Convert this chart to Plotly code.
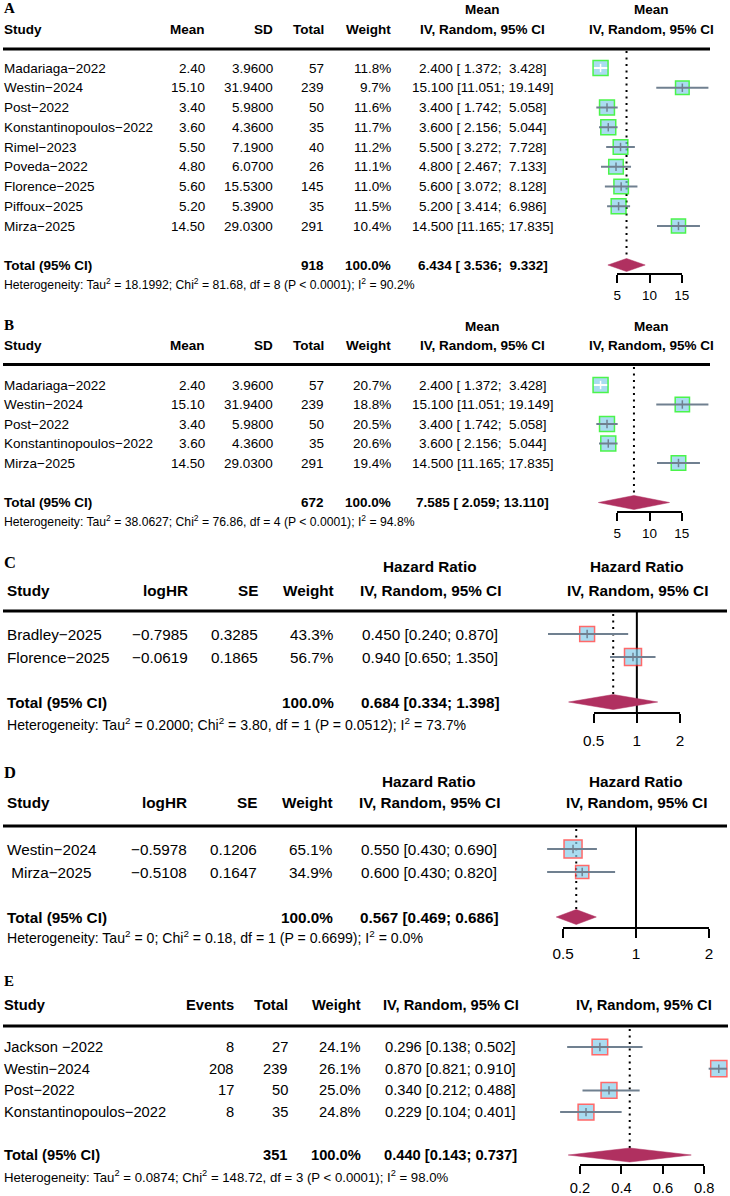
import math
import plotly.graph_objects as go

W, H = 730, 1196
SANS = "Liberation Sans, Arial, sans-serif"
SERIF = "Liberation Serif, Times New Roman, serif"
FILL = "#87CEEB"
CI_COL = "#708090"
DIAMOND = "#B03060"
GREEN = "#00F000"
RED = "#FF2A2A"

# ---------------- DATA ----------------
A_study = ["Madariaga−2022", "Westin−2024", "Post−2022", "Konstantinopoulos−2022", "Rimel−2023",
           "Poveda−2022", "Florence−2025", "Piffoux−2025", "Mirza−2025"]
A_mean = [2.40, 15.10, 3.40, 3.60, 5.50, 4.80, 5.60, 5.20, 14.50]
A_sd = [3.96, 31.94, 5.98, 4.36, 7.19, 6.07, 15.53, 5.39, 29.03]
A_total = [57, 239, 50, 35, 40, 26, 145, 35, 291]
A_weight = [11.8, 9.7, 11.6, 11.7, 11.2, 11.1, 11.0, 11.5, 10.4]
A_est = [2.400, 15.100, 3.400, 3.600, 5.500, 4.800, 5.600, 5.200, 14.500]
A_lo = [1.372, 11.051, 1.742, 2.156, 3.272, 2.467, 3.072, 3.414, 11.165]
A_hi = [3.428, 19.149, 5.058, 5.044, 7.728, 7.133, 8.128, 6.986, 17.835]
A_pooled = [6.434, 3.536, 9.332]
A_sum_total = 918
A_het = ["18.1992", "81.68", "8", "< 0.0001", "90.2"]
A_ticks = [5, 10, 15]

B_study = ["Madariaga−2022", "Westin−2024", "Post−2022", "Konstantinopoulos−2022", "Mirza−2025"]
B_mean = [2.40, 15.10, 3.40, 3.60, 14.50]
B_sd = [3.96, 31.94, 5.98, 4.36, 29.03]
B_total = [57, 239, 50, 35, 291]
B_weight = [20.7, 18.8, 20.5, 20.6, 19.4]
B_est = [2.400, 15.100, 3.400, 3.600, 14.500]
B_lo = [1.372, 11.051, 1.742, 2.156, 11.165]
B_hi = [3.428, 19.149, 5.058, 5.044, 17.835]
B_pooled = [7.585, 2.059, 13.110]
B_sum_total = 672
B_het = ["38.0627", "76.86", "4", "< 0.0001", "94.8"]
B_ticks = [5, 10, 15]

C_study = ["Bradley−2025", "Florence−2025"]
C_loghr = [-0.7985, -0.0619]
C_se = [0.3285, 0.1865]
C_weight = [43.3, 56.7]
C_hr = [0.450, 0.940]
C_lo = [0.240, 0.650]
C_hi = [0.870, 1.350]
C_pooled = [0.684, 0.334, 1.398]
C_het = ["0.2000", "3.80", "1", "= 0.0512", "73.7"]
C_ticks = [0.5, 1, 2]

D_study = ["Westin−2024", " Mirza−2025"]
D_loghr = [-0.5978, -0.5108]
D_se = [0.1206, 0.1647]
D_weight = [65.1, 34.9]
D_hr = [0.550, 0.600]
D_lo = [0.430, 0.430]
D_hi = [0.690, 0.820]
D_pooled = [0.567, 0.469, 0.686]
D_het = ["0", "0.18", "1", "= 0.6699", "0.0"]
D_ticks = [0.5, 1, 2]

E_study = ["Jackson −2022", "Westin−2024", "Post−2022", "Konstantinopoulos−2022"]
E_events = [8, 208, 17, 8]
E_total = [27, 239, 50, 35]
E_weight = [24.1, 26.1, 25.0, 24.8]
E_est = [0.296, 0.870, 0.340, 0.229]
E_lo = [0.138, 0.821, 0.212, 0.104]
E_hi = [0.502, 0.910, 0.488, 0.401]
E_pooled = [0.440, 0.143, 0.737]
E_sum_total = 351
E_het = ["0.0874", "148.72", "3", "< 0.0001", "98.0"]
E_ticks = [0.2, 0.4, 0.6, 0.8]

# ---------------- HELPERS ----------------
fig = go.Figure()
ann, shp, lay = [], [], {}
NB = "\u00a0"


def X(px):
    return px / W


def txt(x, y, s, size, anchor="left", bold=False, family=SANS):
    if bold:
        s = "<b>" + s + "</b>"
    ann.append(dict(x=X(x), y=y, xref="paper", yref="y", text=s, showarrow=False,
                    xanchor=anchor, yanchor="middle", borderpad=0,
                    font=dict(family=family, size=size, color="black")))


def hline(y, x0, x1, width):
    shp.append(dict(type="line", xref="paper", yref="y", x0=X(x0), x1=X(x1), y0=y, y1=y,
                    line=dict(color="black", width=width)))


def ci_strings(est, lo, hi, pooled):
    los = [f"{v:.3f}" for v in list(lo) + [pooled[1]]]
    his = [f"{v:.3f}" for v in list(hi) + [pooled[2]]]
    wl = max(len(s) for s in los)
    wh = max(len(s) for s in his)
    out = [f"{e:.3f} [{l.rjust(wl, NB)};{NB}{h.rjust(wh, NB)}]"
           for e, l, h in zip(list(est) + [pooled[0]], los, his)]
    return out[:-1], out[-1]


def het_str(h):
    p = h[3].replace("<", "&lt;")
    return (f"Heterogeneity: Tau<sup>2</sup> = {h[0]}; Chi<sup>2</sup> = {h[1]}, "
            f"df = {h[2]} (P {p}); I<sup>2</sup> = {h[4]}%")


def minus(v, fmt):
    return format(v, fmt).replace("-", "−")


def table(cfg, cols, het, nrows):
    f = cfg["font"]
    txt(3, cfg["label_y"], cfg["label"], cfg["label_size"], bold=True, family=SERIF)
    rows_y = [cfg["row0"] + i * cfg["step"] for i in range(nrows)]
    for c in cols:
        h1, h2 = c["head"]
        if h1:
            txt(c["x"], cfg["h1_y"], h1, f, c["anchor"], bold=True)
        txt(c["x"], cfg["h2_y"], h2, f, c["anchor"], bold=True)
        for v, y in zip(c.get("vals", []), rows_y):
            txt(c["x"], y, v, f, c["anchor"])
        if c.get("total"):
            txt(c["x"], cfg["total_y"], c["total"], f, c["anchor"], bold=True)
    hline(cfg["line_y"], 3, cfg["line_x1"], 2.8)
    txt(cfg["left"], cfg["het_y"], het_str(het), cfg["het_font"])
    return rows_y


def forest(k, cfg, est, lo, hi, w, pooled, ticks, rows_y):
    log = cfg["log"]
    u = (lambda v: math.log10(v)) if log else (lambda v: v)
    t0, t1 = u(ticks[0]), u(ticks[-1])
    a, b = cfg["tick_px"]
    slope = (b - a) / (t1 - t0)
    L, R = cfg["data_px"]
    rng = [t0 + (L - a) / slope, t0 + (R - a) / slope]
    typ = "log" if log else "linear"
    dname = "x" if k == 1 else f"x{k}"
    tname = f"x{k + 5}"
    lay["xaxis" if k == 1 else f"xaxis{k}"] = dict(
        domain=[X(L), X(R)], range=rng, type=typ, visible=False, fixedrange=True, anchor="y",
        automargin=False)
    lay[f"xaxis{k + 5}"] = dict(
        domain=[X(a), X(b)], range=[t0, t1], type=typ, anchor="free",
        position=1 - cfg["axis_y"] / H, showline=True, linecolor="black", linewidth=2,
        ticks="outside", ticklen=cfg["ticklen"], tickwidth=2, tickcolor="black",
        tickmode="array", tickvals=ticks, ticktext=[f"{t:g}" for t in ticks],
        tickfont=dict(family=SANS, size=cfg["font"], color="black"),
        ticklabelstandoff=cfg["standoff"], showgrid=False, zeroline=False, fixedrange=True,
        automargin=False)
    common = dict(xaxis=dname, yaxis="y", hoverinfo="skip", showlegend=False)
    total_y = cfg["total_y"]
    dh = cfg["dh"]

    if cfg["null"]:
        fig.add_trace(go.Scatter(x=[1, 1], y=[cfg["line_y"], cfg["axis_y"]], mode="lines",
                                 line=dict(color="black", width=2), **common))
    fig.add_trace(go.Scatter(x=[pooled[0], pooled[0]], y=[cfg["dot_top"], total_y - dh],
                             mode="lines", line=dict(color="black", width=2, dash="2px,4.5px"),
                             **common))
    wmax = max(w)
    sizes = [cfg["box"] * math.sqrt(v / wmax) for v in w]
    inside = [(u(h) - u(l)) * slope < s for l, h, s in zip(lo, hi, sizes)]
    fig.add_trace(go.Scatter(x=est, y=rows_y, mode="markers",
                             marker=dict(symbol="square", size=sizes, color=FILL,
                                         line=dict(color=cfg["border"], width=1.5)), **common))
    for col, flag in ((CI_COL, False), ("white", True)):
        xs, ys = [], []
        for l, h, y, ins in zip(lo, hi, rows_y, inside):
            if ins == flag:
                xs += [l, h, None]
                ys += [y, y, None]
        if xs:
            fig.add_trace(go.Scatter(x=xs, y=ys, mode="lines", line=dict(color=col, width=2),
                                     **common))
    fig.add_trace(go.Scatter(x=est, y=rows_y, mode="markers",
                             marker=dict(symbol="line-ns", size=6, color=CI_COL,
                                         line=dict(color=["white" if i else CI_COL for i in inside],
                                                   width=1.5)), **common))
    fig.add_trace(go.Scatter(x=[pooled[1], pooled[0], pooled[2], pooled[0], pooled[1]],
                             y=[total_y, total_y - dh, total_y, total_y + dh, total_y],
                             mode="lines", fill="toself", fillcolor=DIAMOND,
                             line=dict(color=DIAMOND, width=0.5), **common))
    fig.add_trace(go.Scatter(x=[], y=[], xaxis=tname, yaxis="y", hoverinfo="skip",
                             showlegend=False))


# ---------------- PANEL A ----------------
cfgA = dict(label="A", label_y=8, label_size=15, h1_y=9, h2_y=29, line_y=49, line_x1=710,
            row0=68, step=19.75, total_y=265, het_y=284, font=13.5, het_font=12.2, left=3,
            log=False, tick_px=(617.3, 681.7), data_px=(560, 730), axis_y=274, ticklen=8,
            standoff=1, box=15, border=GREEN, dh=6.5, dot_top=51, null=False)
ciA, ciA_tot = ci_strings(A_est, A_lo, A_hi, A_pooled)
colsA = [
    dict(x=3, anchor="left", head=(None, "Study"), vals=A_study, total="Total (95% CI)"),
    dict(x=205.7, anchor="right", head=(None, "Mean"), vals=[f"{v:.2f}" for v in A_mean]),
    dict(x=274.3, anchor="right", head=(None, "SD"), vals=[f"{v:.4f}" for v in A_sd]),
    dict(x=325, anchor="right", head=(None, "Total"), vals=[str(v) for v in A_total],
         total=str(A_sum_total)),
    dict(x=391.5, anchor="right", head=(None, "Weight"), vals=[f"{v:.1f}%" for v in A_weight],
         total="100.0%"),
    dict(x=482.5, anchor="center", head=("Mean", "IV, Random, 95% CI"), vals=ciA, total=ciA_tot),
    dict(x=651, anchor="center", head=("Mean", "IV, Random, 95% CI")),
]
rowsA = table(cfgA, colsA, A_het, len(A_study))
forest(1, cfgA, A_est, A_lo, A_hi, A_weight, A_pooled, A_ticks, rowsA)

# ---------------- PANEL B ----------------
cfgB = dict(cfgA, label="B", label_y=325, h1_y=326, h2_y=345.5, line_y=364.5, row0=385,
            step=19.5, total_y=502.5, het_y=521, axis_y=512, dot_top=367, dh=7, standoff=1)
ciB, ciB_tot = ci_strings(B_est, B_lo, B_hi, B_pooled)
colsB = [
    dict(x=3, anchor="left", head=(None, "Study"), vals=B_study, total="Total (95% CI)"),
    dict(x=205.7, anchor="right", head=(None, "Mean"), vals=[f"{v:.2f}" for v in B_mean]),
    dict(x=274.3, anchor="right", head=(None, "SD"), vals=[f"{v:.4f}" for v in B_sd]),
    dict(x=325, anchor="right", head=(None, "Total"), vals=[str(v) for v in B_total],
         total=str(B_sum_total)),
    dict(x=391.5, anchor="right", head=(None, "Weight"), vals=[f"{v:.1f}%" for v in B_weight],
         total="100.0%"),
    dict(x=482.5, anchor="center", head=("Mean", "IV, Random, 95% CI"), vals=ciB, total=ciB_tot),
    dict(x=651, anchor="center", head=("Mean", "IV, Random, 95% CI")),
]
rowsB = table(cfgB, colsB, B_het, len(B_study))
forest(2, cfgB, B_est, B_lo, B_hi, B_weight, B_pooled, B_ticks, rowsB)

# ---------------- PANEL C ----------------
cfgC = dict(label="C", label_y=562, label_size=16.5, h1_y=566, h2_y=590, line_y=611, line_x1=727,
            row0=634, step=23, total_y=702, het_y=724, font=15.3, het_font=14.1, left=5.5,
            log=True, tick_px=(593.7, 680), data_px=(520, 730), axis_y=713, ticklen=8.5,
            standoff=5, box=17, border=RED, dh=7.5, dot_top=614, null=True)
ciC, ciC_tot = ci_strings(C_hr, C_lo, C_hi, C_pooled)
colsC = [
    dict(x=5.5, anchor="left", head=(None, "Study"), vals=C_study, total="Total (95% CI)"),
    dict(x=189, anchor="right", head=(None, "logHR"), vals=[minus(v, ".4f") for v in C_loghr]),
    dict(x=259.3, anchor="right", head=(None, "SE"), vals=[f"{v:.4f}" for v in C_se]),
    dict(x=335, anchor="right", head=(None, "Weight"), vals=[f"{v:.1f}%" for v in C_weight],
         total="100.0%"),
    dict(x=430, anchor="center", head=("Hazard Ratio", "IV, Random, 95% CI"), vals=ciC,
         total=ciC_tot),
    dict(x=637, anchor="center", head=("Hazard Ratio", "IV, Random, 95% CI")),
]
rowsC = table(cfgC, colsC, C_het, len(C_study))
forest(3, cfgC, C_hr, C_lo, C_hi, C_weight, C_pooled, C_ticks, rowsC)

# ---------------- PANEL D ----------------
cfgD = dict(cfgC, label="D", label_y=772, h1_y=781, h2_y=802, line_y=826, row0=849, step=23,
            total_y=917, het_y=937, tick_px=(563, 709), axis_y=928, ticklen=9, standoff=3,
            box=18, dot_top=829)
ciD, ciD_tot = ci_strings(D_hr, D_lo, D_hi, D_pooled)
colsD = [
    dict(x=5.5, anchor="left", head=(None, "Study"), vals=D_study, total="Total (95% CI)"),
    dict(x=187.5, anchor="right", head=(None, "logHR"), vals=[minus(v, ".4f") for v in D_loghr]),
    dict(x=257.5, anchor="right", head=(None, "SE"), vals=[f"{v:.4f}" for v in D_se]),
    dict(x=333.5, anchor="right", head=(None, "Weight"), vals=[f"{v:.1f}%" for v in D_weight],
         total="100.0%"),
    dict(x=429, anchor="center", head=("Hazard Ratio", "IV, Random, 95% CI"), vals=ciD,
         total=ciD_tot),
    dict(x=636, anchor="center", head=("Hazard Ratio", "IV, Random, 95% CI")),
]
rowsD = table(cfgD, colsD, D_het, len(D_study))
forest(4, cfgD, D_hr, D_lo, D_hi, D_weight, D_pooled, D_ticks, rowsD)

# ---------------- PANEL E ----------------
cfgE = dict(label="E", label_y=981, label_size=15, h1_y=None, h2_y=1005, line_y=1026,
            line_x1=728, row0=1047, step=21.7, total_y=1155, het_y=1176, font=14.7,
            het_font=13.2, left=3, log=False, tick_px=(580, 704.3), data_px=(520, 730),
            axis_y=1165, ticklen=8, standoff=1, box=16.2, border=RED, dh=7, dot_top=1029,
            null=False)
ciE, ciE_tot = ci_strings(E_est, E_lo, E_hi, E_pooled)
colsE = [
    dict(x=3, anchor="left", head=(None, "Study"), vals=E_study, total="Total (95% CI)"),
    dict(x=235, anchor="right", head=(None, "Events"), vals=[str(v) for v in E_events]),
    dict(x=289.3, anchor="right", head=(None, "Total"), vals=[str(v) for v in E_total],
         total=str(E_sum_total)),
    dict(x=361.7, anchor="right", head=(None, "Weight"), vals=[f"{v:.1f}%" for v in E_weight],
         total="100.0%"),
    dict(x=450.5, anchor="center", head=(None, "IV, Random, 95% CI"), vals=ciE, total=ciE_tot),
    dict(x=644, anchor="center", head=(None, "IV, Random, 95% CI")),
]
rowsE = table(cfgE, colsE, E_het, len(E_study))
forest(5, cfgE, E_est, E_lo, E_hi, E_weight, E_pooled, E_ticks, rowsE)

# ---------------- LAYOUT ----------------
lay["yaxis"] = dict(domain=[0, 1], range=[H, 0], visible=False, fixedrange=True, anchor="x",
                    automargin=False)
fig.update_layout(width=W, height=H, autosize=False,
                  margin=dict(l=0, r=0, t=0, b=0, pad=0, autoexpand=False),
                  paper_bgcolor="white", plot_bgcolor="rgba(0,0,0,0)",
                  annotations=ann, shapes=shp, showlegend=False, **lay)
fig.write_html("out.html")
